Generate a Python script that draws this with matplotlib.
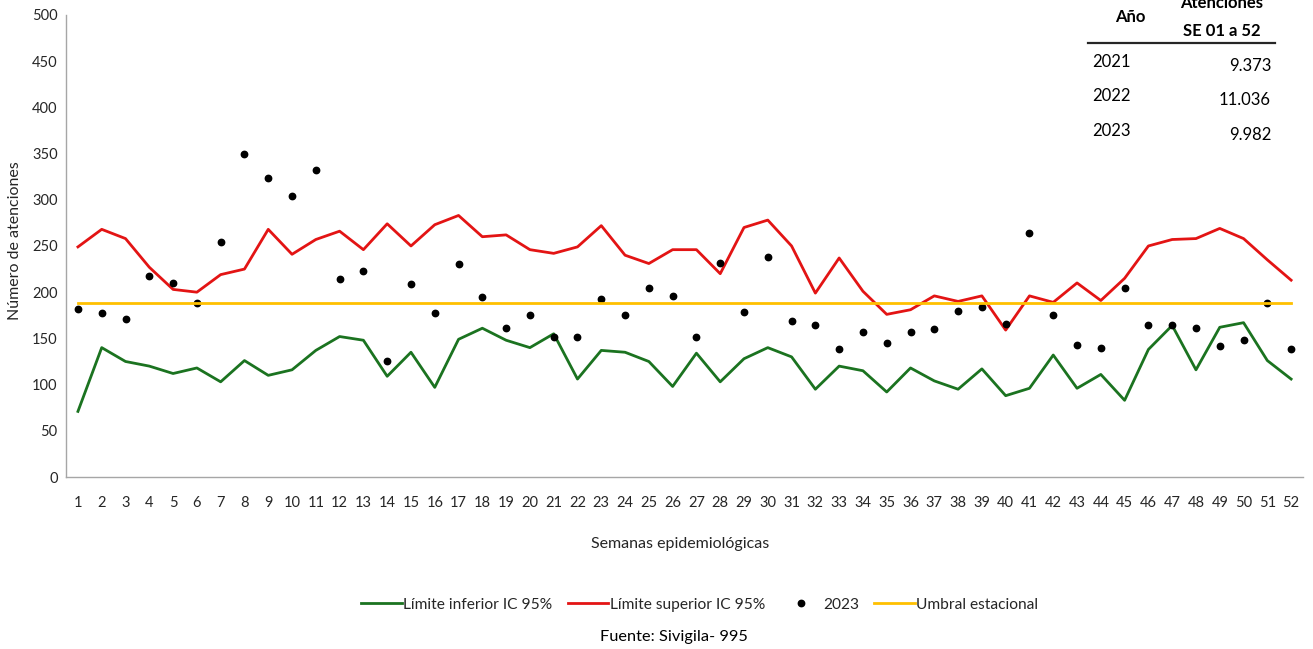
import matplotlib
matplotlib.use("Agg")
import matplotlib.pyplot as plt
from matplotlib.lines import Line2D

plt.rcParams['font.family'] = ['Lato', 'DejaVu Sans']

semanas = list(range(1, 53))
limite_superior = [249, 268, 258, 227, 203, 200, 219, 225, 268, 241, 257,
                   266, 246, 274, 250, 273, 283, 260, 262, 246, 242, 249, 272, 240,
                   231, 246, 246, 220, 270, 278, 250, 199, 237, 201, 176, 181, 196, 190,
                   196, 159, 196, 189, 210, 191, 215, 250, 257, 258, 269, 258, 235, 213]
limite_inferior = [71, 140, 125, 120, 112, 118, 103, 126, 110, 116, 137,
                   152, 148, 109, 135, 97, 149, 161, 148, 140, 155, 106, 137, 135,
                   125, 98, 134, 103, 128, 140, 130, 95, 120, 115, 92, 118, 104, 95,
                   117, 88, 96, 132, 96, 111, 83, 138, 164, 116, 162, 167, 126, 106]
casos_2023 = [182, 178, 171, 217, 210, 188, 254, 349, 324, 304, 332,
              214, 223, 125, 209, 178, 230, 195, 161, 175, 151, 152, 193, 175,
              204, 196, 151, 232, 179, 238, 169, 165, 139, 157, 145, 157, 160, 180,
              184, 166, 264, 175, 143, 140, 204, 165, 164, 161, 142, 148, 188, 139]
umbral = [188] * 52

tabla_anios = ["2021", "2022", "2023"]
tabla_valores = ["9.373", "11.036", "9.982"]

C_GREEN = "#1B7320"
C_RED = "#E31414"
C_YEL = "#FFC000"
TXT = "#262626"

fig = plt.figure(figsize=(13.13, 6.49), dpi=100)
ax = fig.add_axes([0.0503, 0.265, 0.9421, 0.712])

ax.plot(semanas, limite_inferior, color=C_GREEN, lw=2.0)
ax.plot(semanas, limite_superior, color=C_RED, lw=2.0)
ax.plot(semanas, casos_2023, 'o', color='black', ms=4.6, lw=0)
ax.plot(semanas, umbral, color=C_YEL, lw=2.0)

ax.set_xlim(0.5, 52.5)
ax.set_ylim(0, 500)
ax.set_yticks(range(0, 501, 50))
ax.set_xticks(semanas)
ax.tick_params(axis='both', length=0, labelsize=10.5, colors=TXT, pad=6)
ax.tick_params(axis='x', pad=14)
for s in ['top', 'right']:
    ax.spines[s].set_visible(False)
for s in ['left', 'bottom']:
    ax.spines[s].set_color('#A6A6A6')
    ax.spines[s].set_linewidth(1.0)

fig.text(0.0115, 0.63, "Número de atenciones", rotation=90, ha='center', va='center',
         fontsize=11.5, color=TXT)
fig.text(0.518, 0.162, "Semanas epidemiológicas", ha='center', va='center',
         fontsize=11.5, color=TXT)

handles = [Line2D([], [], color=C_GREEN, lw=2.0),
           Line2D([], [], color=C_RED, lw=2.0),
           Line2D([], [], color='black', marker='o', ms=4.6, lw=0),
           Line2D([], [], color=C_YEL, lw=2.0)]
labels = ["Límite inferior IC 95%", "Límite superior IC 95%", "2023", "Umbral estacional"]
fig.legend(handles, labels, loc='center', bbox_to_anchor=(0.533, 0.068), ncol=4,
           frameon=False, fontsize=11.2, handlelength=2.6, handletextpad=0.1,
           columnspacing=1.0, labelcolor=TXT)
fig.text(0.513, 0.019, "Fuente: Sivigila- 995", ha='center', va='center',
         fontsize=11.8, color='black')

# table
fig.text(1130 / 1313, 1 - 17 / 649, "Año", ha='center', va='center', fontsize=12,
         fontweight='bold', color='black')
fig.text(1222 / 1313, 1 - 3 / 649, "Atenciones", ha='center', va='center', fontsize=12,
         fontweight='bold', color='black')
fig.text(1222 / 1313, 1 - 31 / 649, "SE 01 a 52", ha='center', va='center', fontsize=12,
         fontweight='bold', color='black')
fig.add_artist(Line2D([1088 / 1313, 1275 / 1313], [1 - 43 / 649, 1 - 43 / 649],
                      color='#262626', lw=1.6, transform=fig.transFigure))
row_y = [62, 96, 131]
for anio, val, yy in zip(tabla_anios, tabla_valores, row_y):
    fig.text(1092 / 1313, 1 - yy / 649, anio, ha='left', va='center', fontsize=12,
             color='black')
    fig.text(1271 / 1313, 1 - (yy + 4) / 649, val, ha='right', va='center', fontsize=12,
             color='black')

fig.savefig("out.png", dpi=100)
